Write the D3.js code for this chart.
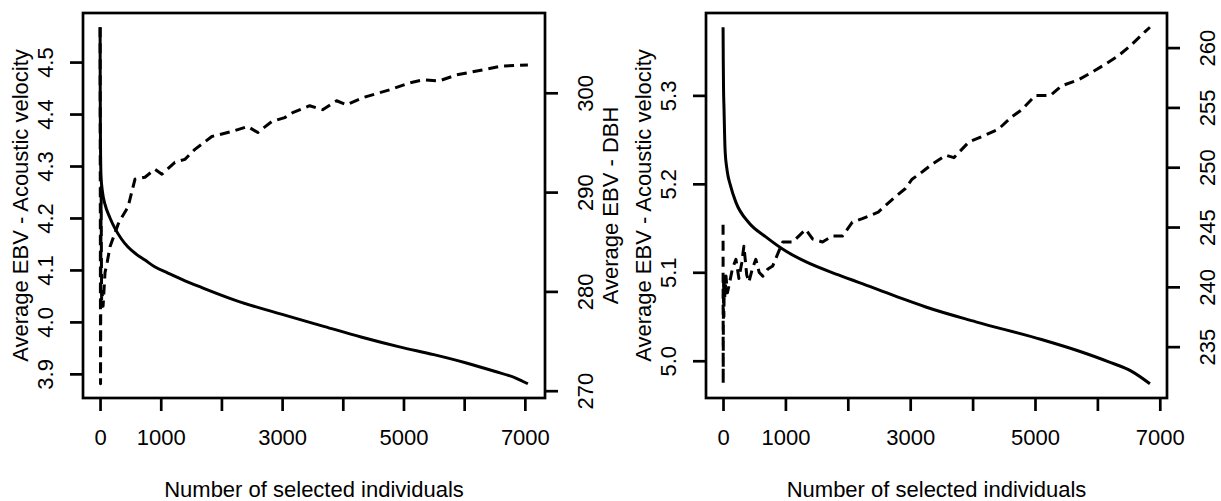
<!DOCTYPE html>
<html>
<head>
<meta charset="utf-8">
<script src="https://cdn.jsdelivr.net/npm/d3@7"></script>
<style>
  body { margin: 0; background: #fff; }
  svg { display: block; }
  text { font-family: "Liberation Sans", Arial, sans-serif; font-size: 22px; fill: #000; }
</style>
</head>
<body>
<svg id="chart" width="1221" height="501"></svg>
<script>
// ---- data ----
// left panel: solid = average EBV acoustic velocity, dashed = average EBV DBH
const leftVelN = [1, 3, 6, 10, 16, 40, 82, 164, 250, 350, 461, 600, 740, 900, 1118, 1400, 1678, 2220, 3043, 3700, 4300, 4934, 5500, 6036, 6500, 6850, 7050];
const leftVel = [4.567, 4.45, 4.36, 4.31, 4.28, 4.25, 4.226, 4.200, 4.179, 4.160, 4.144, 4.130, 4.119, 4.106, 4.094, 4.079, 4.066, 4.042, 4.013, 3.991, 3.971, 3.952, 3.937, 3.921, 3.905, 3.892, 3.881];
const leftDbhN = [1, 2, 3, 4, 5, 6, 8, 10, 12, 15, 18, 22, 26, 33, 50, 82, 120, 164, 247, 300, 362, 461, 576, 740, 905, 1020, 1234, 1398, 1563, 1842, 2171, 2434, 2599, 2829, 3043, 3174, 3454, 3668, 3898, 4062, 4326, 4770, 5099, 5313, 5592, 5872, 6299, 6628, 7050];
const leftDbh = [306.6, 300, 293, 289, 285, 280, 270.7, 275, 282, 287, 290.5, 284, 279, 280, 278.5, 281.9, 283, 284.5, 285.9, 286.8, 287.5, 288.5, 291.3, 291.5, 292.3, 291.8, 293.0, 293.3, 294.3, 295.6, 296.1, 296.6, 296.0, 297.1, 297.5, 298.0, 298.7, 298.3, 299.2, 298.8, 299.5, 300.3, 301.0, 301.3, 301.2, 301.8, 302.3, 302.7, 302.8];

// right panel
const rightVelN = [1, 4, 8, 16, 24, 32, 60, 80, 112, 207, 415, 686, 1005, 1324, 1850, 2392, 2919, 3238, 4051, 5104, 5700, 6172, 6550, 6842];
const rightVel = [5.377, 5.34, 5.31, 5.285, 5.26, 5.24, 5.218, 5.209, 5.200, 5.179, 5.156, 5.140, 5.124, 5.112, 5.097, 5.083, 5.069, 5.061, 5.044, 5.024, 5.011, 4.999, 4.988, 4.974];
const rightDbhN = [1, 2, 3, 5, 7, 10, 14, 20, 30, 48, 70, 96, 150, 207, 255, 300, 335, 380, 415, 470, 526, 580, 638, 720, 797, 880, 957, 1116, 1324, 1435, 1595, 1754, 1914, 2073, 2233, 2488, 2711, 2919, 3030, 3190, 3349, 3573, 3700, 3939, 4211, 4418, 4625, 4785, 5008, 5247, 5423, 5694, 5901, 6124, 6332, 6539, 6778, 6842];
const rightDbh = [245.2, 238, 231.9, 236, 238.5, 241, 237.5, 240.5, 239, 240.9, 239.5, 240.1, 241.5, 242.3, 240.7, 242, 243.4, 241, 240.4, 241.5, 242.3, 241.2, 240.9, 241.5, 241.75, 242.8, 243.75, 243.75, 244.8, 244.0, 243.75, 244.25, 244.25, 245.4, 245.7, 246.25, 247.3, 248.2, 249.0, 249.6, 250.25, 251.0, 250.8, 252.1, 252.7, 253.2, 254.2, 254.8, 256.0, 256.0, 256.8, 257.3, 257.9, 258.6, 259.3, 260.2, 261.4, 261.7];

// tick values and labels
const xTicks = [0, 1000, 2000, 3000, 4000, 5000, 6000, 7000];
const xTickLabels = ["0", "1000", "", "3000", "", "5000", "", "7000"];
const leftVelTicks = [3.9, 4.0, 4.1, 4.2, 4.3, 4.4, 4.5];
const leftDbhTicks = [270, 280, 290, 300];
const rightVelTicks = [5.0, 5.1, 5.2, 5.3];
const rightDbhTicks = [235, 240, 245, 250, 255, 260];

const xTitle = "Number of selected individuals";
const velTitle = "Average EBV - Acoustic velocity";
const dbhTitle = "Average EBV - DBH";

const svg = d3.select("#chart");

// R style range: data extent padded by 4%
function rRange(vals) {
  const [a, b] = d3.extent(vals);
  const p = (b - a) * 0.04;
  return [a - p, b + p];
}

function zip(xs, ys) { return xs.map((x, i) => ({ n: x, v: ys[i] })); }

function styleText(sel) {
  sel.attr("font-size", 22).attr("font-family", "Liberation Sans, Arial, sans-serif");
}

function drawPanel(opt) {
  const { x0, x1, y0, y1 } = opt;
  const g = svg.append("g");

  const xScale = d3.scaleLinear().domain(rRange(opt.velN.concat(opt.dbhN))).range([x0, x1]);
  const yVel = d3.scaleLinear().domain(rRange(opt.vel)).range([y1, y0]);
  const yDbh = d3.scaleLinear().domain(rRange(opt.dbh)).range([y1, y0]);

  // lines
  const lineVel = d3.line().x(d => xScale(d.n)).y(d => yVel(d.v)).curve(d3.curveMonotoneX);
  const lineDbh = d3.line().x(d => xScale(d.n)).y(d => yDbh(d.v));

  g.append("path")
    .attr("d", lineVel(zip(opt.velN, opt.vel)))
    .attr("fill", "none").attr("stroke", "#000")
    .attr("stroke-width", 3).attr("stroke-linejoin", "round");

  g.append("path")
    .attr("d", lineDbh(zip(opt.dbhN, opt.dbh)))
    .attr("fill", "none").attr("stroke", "#000")
    .attr("stroke-width", 3).attr("stroke-linejoin", "round")
    .attr("stroke-dasharray", "10,6");

  // box
  g.append("rect")
    .attr("x", x0).attr("y", y0)
    .attr("width", x1 - x0).attr("height", y1 - y0)
    .attr("fill", "none").attr("stroke", "#000").attr("stroke-width", 2.7);

  // bottom axis
  const ax = g.append("g").attr("transform", `translate(0,${y1})`)
    .call(d3.axisBottom(xScale).tickValues(xTicks).tickSize(13)
      .tickFormat((d, i) => xTickLabels[i]));
  ax.select(".domain").remove();
  ax.selectAll("line").attr("stroke-width", 2.7);
  ax.selectAll("text").attr("y", 47).attr("dy", 0).call(styleText);

  // left axis (velocity)
  const al = g.append("g").attr("transform", `translate(${x0},0)`)
    .call(d3.axisLeft(yVel).tickValues(opt.velTicks).tickSize(13).tickFormat(d3.format(".1f")));
  al.select(".domain").remove();
  al.selectAll("line").attr("stroke-width", 2.7);
  al.selectAll("text").attr("x", null).attr("dy", 0)
    .attr("transform", "translate(-30,0) rotate(-90)")
    .attr("text-anchor", "middle").call(styleText);

  // right axis (DBH)
  const ar = g.append("g").attr("transform", `translate(${x1},0)`)
    .call(d3.axisRight(yDbh).tickValues(opt.dbhTicks).tickSize(13));
  ar.select(".domain").remove();
  ar.selectAll("line").attr("stroke-width", 2.7);
  ar.selectAll("text").attr("x", null).attr("dy", 0)
    .attr("transform", "translate(48,0) rotate(-90)")
    .attr("text-anchor", "middle").call(styleText);

  // titles
  const cx = (x0 + x1) / 2, cy = (y0 + y1) / 2;
  g.append("text").attr("x", cx).attr("y", 497)
    .attr("text-anchor", "middle").text(xTitle);
  g.append("text").attr("transform", `translate(${x0 - 55},${cy}) rotate(-90)`)
    .attr("text-anchor", "middle").text(velTitle);
  if (opt.showDbhTitle) {
    g.append("text").attr("transform", `translate(${x1 + 73},${cy}) rotate(-90)`)
      .attr("text-anchor", "middle").text(dbhTitle);
  }
}

drawPanel({
  x0: 83, x1: 545, y0: 13, y1: 398,
  velN: leftVelN, vel: leftVel, dbhN: leftDbhN, dbh: leftDbh,
  velTicks: leftVelTicks, dbhTicks: leftDbhTicks, showDbhTitle: true
});

// the right panel's DBH title falls beyond the page edge in the reference
drawPanel({
  x0: 706, x1: 1167, y0: 13, y1: 398,
  velN: rightVelN, vel: rightVel, dbhN: rightDbhN, dbh: rightDbh,
  velTicks: rightVelTicks, dbhTicks: rightDbhTicks, showDbhTitle: false
});
</script>
</body>
</html>
